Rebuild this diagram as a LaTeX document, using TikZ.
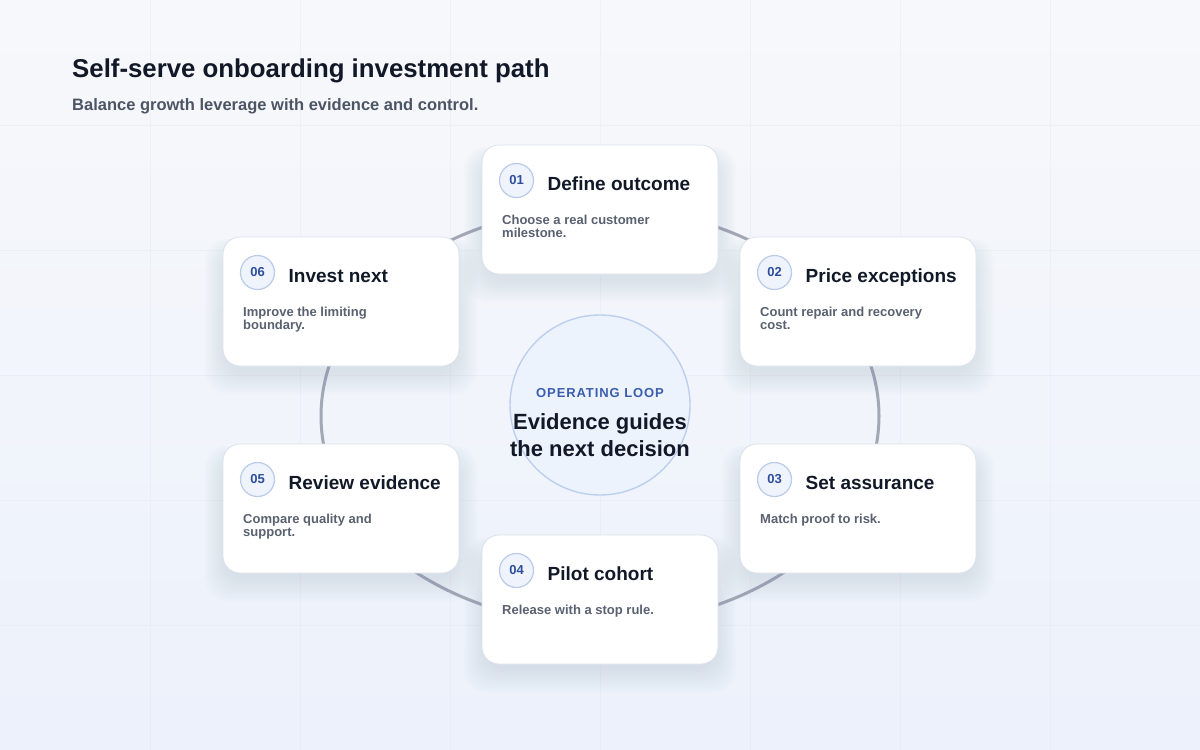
\documentclass[tikz,border=0pt]{standalone}
\usepackage{fontspec}
\setmainfont{Liberation Sans}
\newfontfamily\spacedfont[LetterSpace=7]{Liberation Sans}
\usetikzlibrary{calc}
\definecolor{ink}{HTML}{111827}
\definecolor{muted}{HTML}{596170}
\definecolor{subc}{HTML}{4B5563}
\definecolor{accent}{HTML}{2D4E9C}
\definecolor{ringc}{HTML}{A2A8B4}
\definecolor{pillfill}{HTML}{EEF3FC}
\definecolor{pillline}{HTML}{BACBEA}
\definecolor{shadowc}{HTML}{7F90B8}
\definecolor{bgtop}{HTML}{F7F8FB}
\definecolor{bgbot}{HTML}{ECF1FB}
\definecolor{gridc}{HTML}{DFE5EE}
\definecolor{hubfill}{HTML}{EDF3FD}
\definecolor{hubline}{HTML}{BCCFEE}
\definecolor{hubtext}{HTML}{3A5DAE}
\definecolor{cardline}{HTML}{DDE2EB}
\newcommand\twolines[2]{\vtop{\hbox{#1}\hbox{#2}}}
\newcommand\stepcard[7]{%
  \foreach \k in {1,...,10}{%
    \fill[shadowc, opacity=0.02, rounded corners=22pt]
      (#2+4-\k*2.2, #3+16-\k*1.4) rectangle (#2+232+\k*2.2, #3+129+4+\k*2.4);
  }
  \node[cardbox] (#1) at (#2+118,#3+64.5) {};
  \node[numbadge] (#1n) at (#2+34.5,#3+35.5) {#4};
  \node[cardtitle] (#1t) at (#2+65.5,#3+45) {#5};
  \node[carddesc] (#1d) at (#2+20,#3+79) {#6};
}
\begin{document}
\begin{tikzpicture}[x=1pt,y=-1pt,
  cardbox/.style={draw=cardline, line width=0.8pt, fill=white, rounded corners=17pt, minimum width=236pt, minimum height=129pt, inner sep=0pt},
  numbadge/.style={circle, draw=pillline, line width=1.2pt, fill=pillfill, minimum size=34pt, inner sep=0pt, text=accent, font=\bfseries\fontsize{13}{13}\selectfont},
  cardtitle/.style={anchor=base west, inner sep=0pt, text=ink, font=\bfseries\fontsize{19}{19}\selectfont},
  carddesc/.style={anchor=base west, inner sep=0pt, text=muted, font=\bfseries\fontsize{13}{13}\selectfont},
  gridline/.style={gridc, line width=0.8pt, opacity=0.35},
]
\useasboundingbox (0,0) rectangle (1200,750);
\shade[top color=bgtop, bottom color=bgbot] (0,0) rectangle (1200,750);
\foreach \gx in {150,300,...,1050}{\draw[gridline] (\gx,0) -- (\gx,750);}
\foreach \gy in {125,250,...,625}{\draw[gridline] (0,\gy) -- (1200,\gy);}

% title
\node[anchor=base west, inner sep=0pt, text=ink, font=\bfseries\fontsize{25.8}{25.8}\selectfont] (title) at (72,77) {Self-serve onboarding investment path};
\node[anchor=base west, inner sep=0pt, text=subc, font=\bfseries\fontsize{16.5}{16.5}\selectfont] (subtitle) at (72,110) {Balance growth leverage with evidence and control.};

% ring
\draw[ringc, line width=3pt] (600,416) ellipse [x radius=279, y radius=208];

% hub
\node[circle, draw=hubline, fill=hubfill, line width=1.4pt, minimum size=180pt, inner sep=0pt] (hub) at (600,405) {};
\node[anchor=base, inner sep=0pt, text=hubtext, font=\spacedfont\bfseries\fontsize{13}{13}\selectfont] (hubk) at (600,397) {OPERATING LOOP};
\node[anchor=base, inner sep=0pt, text=ink, font=\bfseries\fontsize{22}{22}\selectfont] (hub1) at (600,429) {Evidence guides};
\node[anchor=base, inner sep=0pt, text=ink, font=\bfseries\fontsize{22}{22}\selectfont] (hub2) at (600,456) {the next decision};

% cards
\stepcard{c1}{482}{145}{01}{Define outcome}{\twolines{Choose a real customer}{milestone.}}{}
\stepcard{c2}{740}{237}{02}{Price exceptions}{\twolines{Count repair and recovery}{cost.}}{}
\stepcard{c6}{223}{237}{06}{Invest next}{\twolines{Improve the limiting}{boundary.}}{}
\stepcard{c3}{740}{444}{03}{Set assurance}{Match proof to risk.}{}
\stepcard{c5}{223}{444}{05}{Review evidence}{\twolines{Compare quality and}{support.}}{}
\stepcard{c4}{482}{535}{04}{Pilot cohort}{Release with a stop rule.}{}
\end{tikzpicture}
\end{document}
